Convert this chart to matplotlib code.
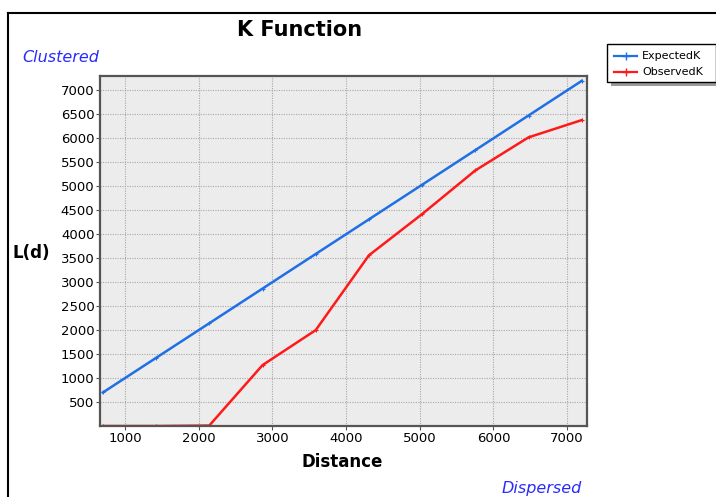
import matplotlib
matplotlib.use("Agg")
import matplotlib.pyplot as plt
from matplotlib.lines import Line2D
from matplotlib.patches import Rectangle

# distance bands and K values
distance = [700, 1422, 2144, 2866, 3588, 4310, 5032, 5754, 6476, 7198]
expected_k = [700, 1422, 2144, 2866, 3588, 4310, 5032, 5754, 6476, 7198]
observed_k = [0, 0, 10, 1270, 2000, 3560, 4420, 5330, 6020, 6380]

x_ticks = [1000, 2000, 3000, 4000, 5000, 6000, 7000]
y_ticks = [500, 1000, 1500, 2000, 2500, 3000, 3500, 4000, 4500, 5000, 5500, 6000, 6500, 7000]

W, H = 716, 497
fig = plt.figure(figsize=(W / 100, H / 100), dpi=100)
fig.patch.set_facecolor("white")


def fx(px): return px / W
def fy(py): return 1 - py / H


# outer frame (top and left edges visible in the reference)
fig.add_artist(Line2D([fx(8), 1.0], [fy(13), fy(13)], color="black", lw=1.5))
fig.add_artist(Line2D([fx(8), fx(8)], [fy(13), 0.0], color="black", lw=1.5))

ax = fig.add_axes([fx(100), fy(426), fx(587) - fx(100), fy(76) - fy(426)])
ax.set_facecolor("#ececec")
ax.plot(distance, expected_k, color="#1f6fe5", lw=1.8, marker="+", ms=3.5, mew=0.8)
ax.plot(distance, observed_k, color="#ff1a1a", lw=1.8, marker="+", ms=3.5, mew=0.8)

ax.set_xlim(660, 7270)
ax.set_ylim(0, 7300)
ax.set_xticks(x_ticks)
ax.set_yticks(y_ticks)
ax.grid(True, color="#a8a8a8", ls=(0, (1, 1.2)), lw=0.8)
ax.set_axisbelow(True)
for s in ax.spines.values():
    s.set_color("#555555")
    s.set_linewidth(1.6)
ax.tick_params(labelsize=9.5, length=3, color="#555555", pad=1)

fig.text(fx(300), fy(30), "K Function", ha="center", va="center",
         fontsize=15, fontweight="bold")
fig.text(fx(22), fy(58), "Clustered", ha="left", va="center",
         fontsize=11.5, style="italic", color="#2a2aff")
fig.text(fx(582), fy(489), "Dispersed", ha="right", va="center",
         fontsize=11.5, style="italic", color="#2a2aff")
fig.text(fx(12), fy(253), "L(d)", ha="left", va="center",
         fontsize=12, fontweight="bold")
fig.text(fx(342), fy(462), "Distance", ha="center", va="center",
         fontsize=12, fontweight="bold")

# legend box with shadow
lx0, ly0, lx1, ly1 = 607, 44, 716, 82
fig.add_artist(Rectangle((fx(lx0 + 4), fy(ly1 + 4)), fx(lx1) - fx(lx0), fy(ly0) - fy(ly1),
                         transform=fig.transFigure, facecolor="#9a9a9a",
                         edgecolor="none", zorder=5))
fig.add_artist(Rectangle((fx(lx0), fy(ly1)), fx(lx1) - fx(lx0), fy(ly0) - fy(ly1),
                         transform=fig.transFigure, facecolor="white",
                         edgecolor="black", lw=1, zorder=6))
for i, (name, col) in enumerate([("ExpectedK", "#1f6fe5"), ("ObservedK", "#ff1a1a")]):
    yy = fy(56 + i * 16)
    fig.add_artist(Line2D([fx(614), fx(637)], [yy, yy], color=col, lw=1.6, zorder=7))
    fig.add_artist(Line2D([fx(625.5)], [yy], color=col, marker="+", ms=6, mew=1, zorder=7))
    fig.text(fx(642), yy, name, ha="left", va="center", fontsize=8, zorder=7)

fig.savefig("out.png", dpi=100)
